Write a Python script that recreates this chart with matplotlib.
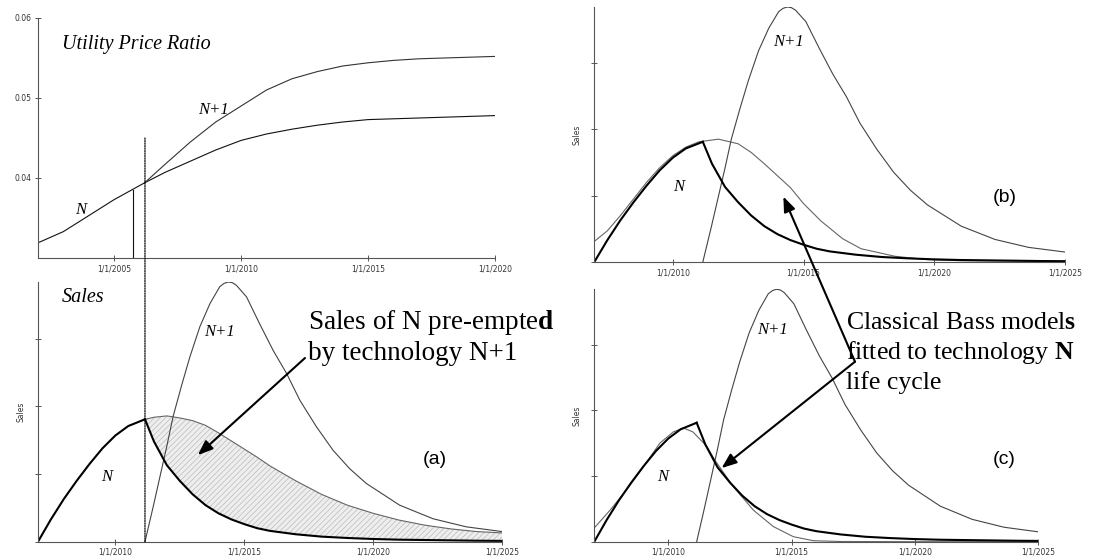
import matplotlib
matplotlib.use("Agg")
import matplotlib.pyplot as plt
from matplotlib.transforms import blended_transform_factory
from matplotlib.patches import ConnectionPatch

plt.rcParams['mathtext.fontset'] = 'custom'
plt.rcParams['mathtext.rm'] = 'Liberation Serif'
plt.rcParams['mathtext.bf'] = 'Liberation Serif:bold'
plt.rcParams['hatch.linewidth'] = 0.5

# ---------------- utility price ratio ----------------
PRICE_YRS_PRE = [2002, 2003, 2004, 2005, 2006.2]
PRICE_PRE = [0.0319, 0.0333, 0.0353, 0.0373, 0.0394]
PRICE_YRS_POST = [2006.2, 2007, 2008, 2009, 2010, 2011, 2012, 2013, 2014,
                  2015, 2016, 2017, 2018, 2019, 2020]
PRICE_N = [0.0394, 0.0407, 0.0421, 0.0435, 0.0447, 0.0455, 0.0461, 0.0466,
           0.0470, 0.0473, 0.0474, 0.0475, 0.0476, 0.0477, 0.0478]
PRICE_N1 = [0.0394, 0.0417, 0.0445, 0.0470, 0.0490, 0.0510, 0.0524, 0.0533,
            0.0540, 0.0544, 0.0547, 0.0549, 0.0550, 0.0551, 0.0552]
ENTRY_YEAR = 2005.73
ENTRY_RATIO = 0.0385
PRICE_YTICKS = [0.04, 0.05, 0.06]
PRICE_XTICKS = [2005, 2010, 2015, 2020]

# ---------------- sales ----------------
N_YRS_PRE = [2007, 2007.5, 2008, 2008.5, 2009, 2009.5, 2010, 2010.5, 2011.15]
N_SALES_PRE = [0, 0.33, 0.63, 0.90, 1.15, 1.38, 1.57, 1.71, 1.81]
N_YRS_POST = [2011.15, 2011.5, 2012, 2012.5, 2013, 2013.5, 2014, 2014.5, 2015,
              2015.5, 2016, 2017, 2018, 2019, 2020, 2021, 2022, 2023, 2024, 2025]
N_SALES_POST = [1.81, 1.48, 1.13, 0.90, 0.70, 0.54, 0.42, 0.33, 0.26,
                0.20, 0.16, 0.11, 0.075, 0.055, 0.04, 0.03, 0.025, 0.02, 0.015, 0.012]
N_UNCONSTRAINED = [1.81, 1.84, 1.86, 1.83, 1.79, 1.72, 1.61, 1.49, 1.37,
                   1.25, 1.12, 0.90, 0.70, 0.54, 0.42, 0.32, 0.245, 0.19, 0.15, 0.13]

N1_YRS = [2011.15, 2011.47, 2011.73, 2011.99, 2012.24, 2012.57, 2012.89, 2013.28,
          2013.67, 2014.05, 2014.22, 2014.38, 2014.54, 2014.70, 2015.09, 2015.60,
          2016.12, 2016.64, 2017.16, 2017.80, 2018.45, 2019.09, 2019.74, 2021.03,
          2022.32, 2023.61, 2025.0]
N1_SALES = [0, 0.52, 0.96, 1.40, 1.85, 2.31, 2.73, 3.18, 3.52, 3.77, 3.82, 3.84,
            3.83, 3.79, 3.62, 3.22, 2.83, 2.49, 2.09, 1.70, 1.35, 1.08, 0.86, 0.54,
            0.34, 0.22, 0.15]

FIT_B_YRS = [2007, 2007.5, 2008, 2008.5, 2009, 2009.5, 2010, 2010.5, 2011, 2011.75,
             2012.5, 2013, 2013.5, 2014, 2014.5, 2015, 2015.66, 2016.5, 2017.2,
             2018.5, 2019.75, 2021, 2025]
FIT_B = [0.31, 0.47, 0.70, 0.95, 1.20, 1.42, 1.60, 1.73, 1.81, 1.85, 1.78, 1.65,
         1.48, 1.30, 1.12, 0.88, 0.62, 0.35, 0.20, 0.086, 0.035, 0.02, 0.01]

FIT_C_YRS = [2007.0, 2007.64, 2008.31, 2008.99, 2009.66, 2010.2, 2010.61, 2011.0,
             2011.56, 2011.89, 2012.63, 2013.45, 2014.26, 2015.07, 2015.88, 2017,
             2020, 2025]
FIT_C = [0.21, 0.48, 0.79, 1.14, 1.50, 1.67, 1.73, 1.67, 1.45, 1.24, 0.84, 0.48,
         0.23, 0.076, 0.015, 0.003, 0.0, 0.0]

SALES_XTICKS = [2010, 2015, 2020, 2025]
SALES_YTICKS = [0, 1, 2, 3]

W, H = 1105, 560
fig = plt.figure(figsize=(W / 100, H / 100), dpi=100)


def box(l, t, r, b):
    return [l / W, 1 - b / H, (r - l) / W, (b - t) / H]


def fpos(x, y):
    return x / W, 1 - y / H


ax_p = fig.add_axes(box(38, 18, 495, 258))
ax_a = fig.add_axes(box(38, 282, 502, 541.7))
ax_b = fig.add_axes(box(594.3, 7, 1065, 262))
ax_c = fig.add_axes(box(594.3, 289.3, 1038.3, 541.7))

AXCOL = '#555555'


def style(ax):
    ax.set_facecolor('none')
    for s in ('top', 'right'):
        ax.spines[s].set_visible(False)
    for s in ('left', 'bottom'):
        ax.spines[s].set_color(AXCOL)
        ax.spines[s].set_linewidth(0.8)
    ax.tick_params(direction='inout', length=5, width=0.7, color=AXCOL,
                   labelsize=5.5, labelcolor='#333333', pad=2)


def date_labels(years):
    return ['1/1/%d' % y for y in years]


# price ratio panel
style(ax_p)
ax_p.plot(PRICE_YRS_PRE, PRICE_PRE, color='#111111', lw=0.8)
ax_p.plot(PRICE_YRS_POST, PRICE_N, color='#111111', lw=0.8)
ax_p.plot(PRICE_YRS_POST, PRICE_N1, color='#333333', lw=0.8)
ax_p.plot([ENTRY_YEAR, ENTRY_YEAR], [0.03, ENTRY_RATIO], color='#111111', lw=0.8)
ax_p.set_xlim(2002, 2020)
ax_p.set_ylim(0.03, 0.06)
ax_p.set_xticks(PRICE_XTICKS)
ax_p.set_xticklabels(date_labels(PRICE_XTICKS))
ax_p.set_yticks(PRICE_YTICKS)
ax_p.set_yticklabels(['%.2f' % v for v in PRICE_YTICKS])


def sales_axes(ax):
    style(ax)
    ax.set_xlim(2007, 2025)
    ax.set_ylim(0, 3.84)
    ax.set_xticks(SALES_XTICKS)
    ax.set_xticklabels(date_labels(SALES_XTICKS))
    ax.set_yticks(SALES_YTICKS)
    ax.set_yticklabels([])
    ax.set_ylabel('Sales', fontsize=5.5, color='#333333')
    ax.yaxis.set_label_coords(-0.028, 0.5)


THICK = dict(color='black', lw=1.5, solid_joinstyle='round')
THIN = dict(color='#444444', lw=0.8)
FIT = dict(color='#666666', lw=0.8)

# (a) pre-empted sales
sales_axes(ax_a)
ax_a.fill_between(N_YRS_POST, N_SALES_POST, N_UNCONSTRAINED, facecolor='#eeeeee',
                  edgecolor='#bbbbbb', hatch='//////', linewidth=0)
ax_a.plot(N_YRS_POST, N_UNCONSTRAINED, **FIT)
ax_a.plot(N1_YRS, N1_SALES, **THIN)
ax_a.plot(N_YRS_PRE, N_SALES_PRE, **THICK)
ax_a.plot(N_YRS_POST, N_SALES_POST, **THICK)

# (b) and (c) Bass fits
for ax, fx, fy in ((ax_b, FIT_B_YRS, FIT_B), (ax_c, FIT_C_YRS, FIT_C)):
    sales_axes(ax)
    ax.plot(fx, fy, **FIT)
    ax.plot(N1_YRS, N1_SALES, **THIN)
    ax.plot(N_YRS_PRE, N_SALES_PRE, **THICK)
    ax.plot(N_YRS_POST, N_SALES_POST, **THICK)

# switch-over line running through both left panels
t_sw = N_YRS_PRE[-1]
con = ConnectionPatch(xyA=(t_sw, 0.045),
                      coordsA=blended_transform_factory(ax_a.transData, ax_p.transData),
                      xyB=(t_sw, 0), coordsB=ax_a.transData,
                      linestyle=(0, (1, 1)), color='black', lw=0.9)
fig.add_artist(con)

# labels
SERIF = 'Liberation Serif'
SANS = 'Liberation Sans'
lab = dict(family=SERIF, style='italic', va='center')
fig.text(*fpos(62, 45), 'Utility Price Ratio', fontsize=14.5, **lab)
fig.text(*fpos(62, 298), 'Sales', fontsize=14.5, **lab)
for (x, y, s) in [(198, 110, 'N+1'), (75, 210, 'N'),
                  (204, 332, 'N+1'), (101, 477, 'N'),
                  (773, 42, 'N+1'), (673, 187, 'N'),
                  (757, 330, 'N+1'), (657, 477, 'N')]:
    fig.text(*fpos(x, y), s, fontsize=12, **lab)

for (x, y, s) in [(423, 460, '(a)'), (993, 197, '(b)'), (993, 460, '(c)')]:
    fig.text(*fpos(x, y), s, fontsize=14, family=SANS, va='center')

fig.text(*fpos(308, 337), 'Sales of N pre-empte$\\mathbf{d}$\nby technology N+1',
         fontsize=19.5, family=SERIF, va='center', linespacing=1.2)
fig.text(*fpos(846, 353),
         'Classical Bass model$\\mathbf{s}$\nfitted to technology $\\mathbf{N}$\nlife cycle',
         fontsize=18.5, family=SERIF, va='center', linespacing=1.27)

arrow = dict(arrowstyle='-|>,head_length=0.9,head_width=0.35', color='black',
             lw=1.5, shrinkA=0, shrinkB=0)
ax_a.annotate('', xy=(2013.2, 1.28), xycoords='data',
              xytext=fpos(305, 358), textcoords='figure fraction',
              arrowprops=arrow, annotation_clip=False)
ax_b.annotate('', xy=(2014.23, 0.985), xycoords='data',
              xytext=fpos(855, 361.7), textcoords='figure fraction',
              arrowprops=arrow, annotation_clip=False)
ax_c.annotate('', xy=(2012.16, 1.12), xycoords='data',
              xytext=fpos(855, 361.7), textcoords='figure fraction',
              arrowprops=arrow, annotation_clip=False)

fig.savefig('out.png', dpi=100)
